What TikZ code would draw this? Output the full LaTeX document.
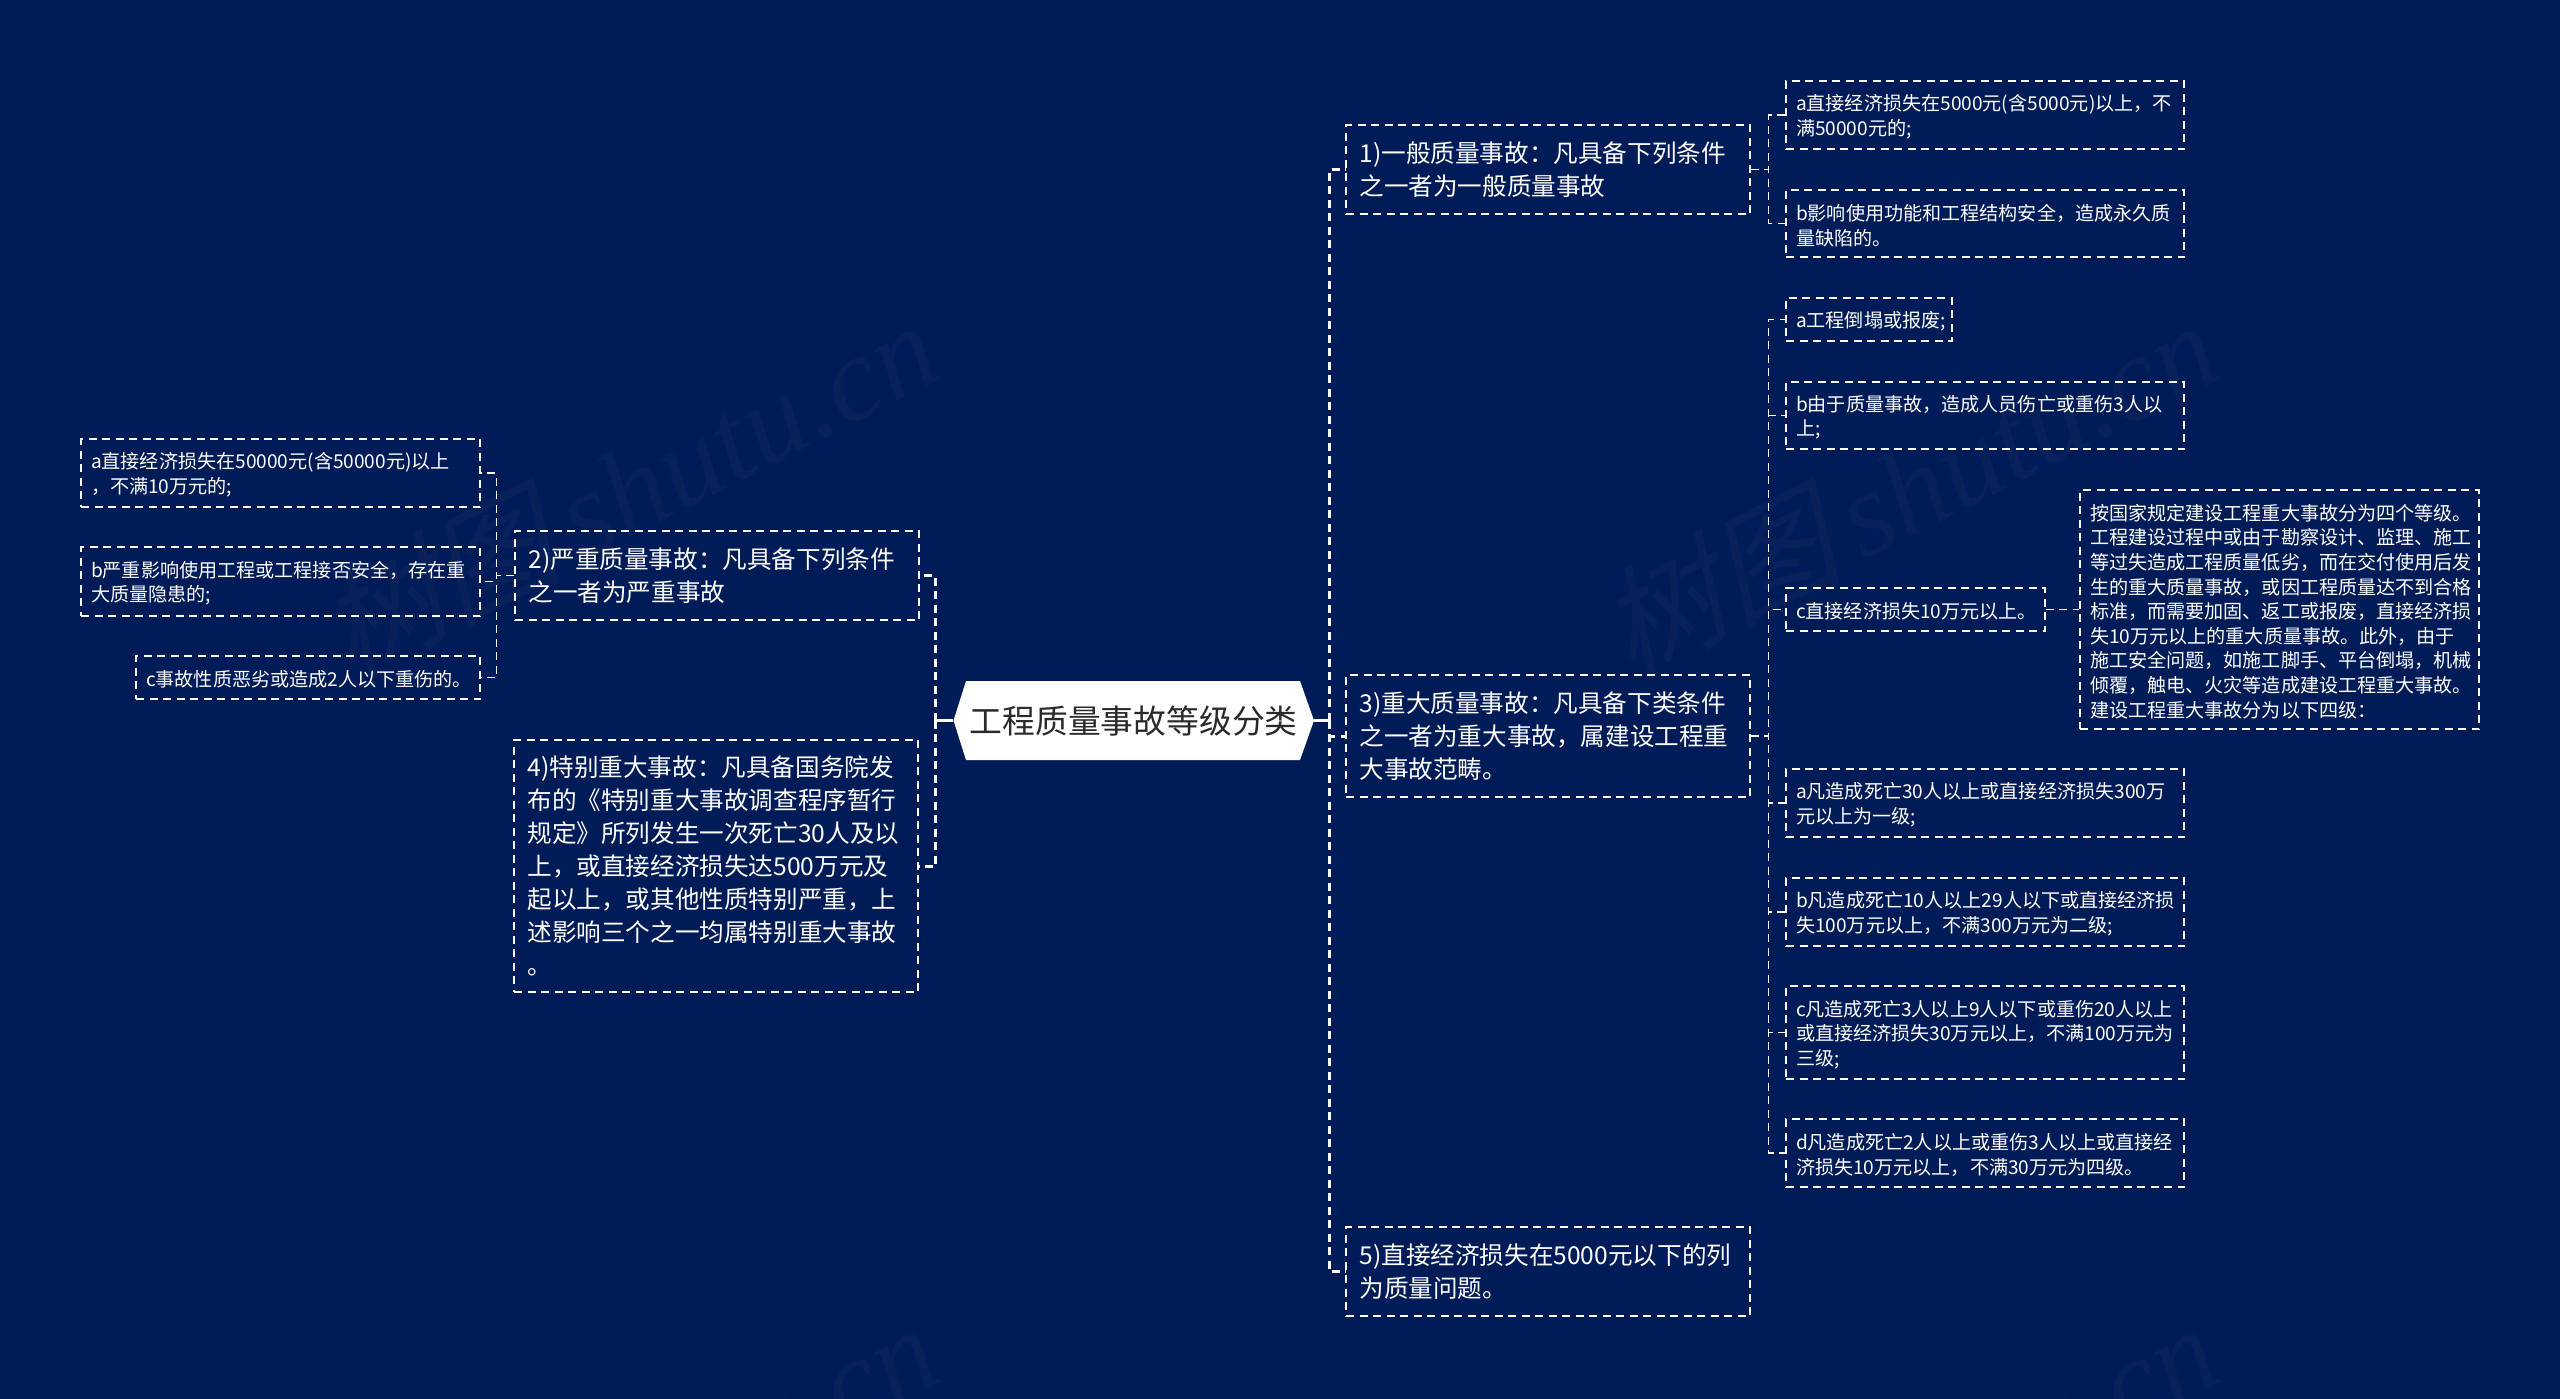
\documentclass[tikz,border=0pt]{standalone}
\usepackage{fontspec}
\setmainfont{Noto Sans CJK SC}
\newfontfamily\wmcjk[FakeSlant=0.25]{Noto Sans CJK SC}
\newfontfamily\wmlat{Liberation Serif}
\definecolor{bgblue}{HTML}{001C58}
\definecolor{wmark}{HTML}{09215A}
\definecolor{rootink}{HTML}{2A2A2A}
\tikzset{
  boxbase/.style={draw=white,line width=1.3pt,dash pattern=on 8pt off 5.5pt,text=white,inner ysep=0pt,rectangle,align=left,anchor=center},
  lvone/.style={boxbase,font=\fontsize{24.6}{33}\selectfont},
  lvtwo/.style={boxbase,font=\fontsize{19.1}{24.6}\selectfont,execute at begin node={\rule{0pt}{20pt}}},
  mainlink/.style={draw=white,line width=3pt,dash pattern=on 8pt off 5.5pt},
  sublink/.style={draw=white,line width=1.5pt,dash pattern=on 8pt off 5.5pt},
  stub/.style={draw=white,line width=3pt},
  rootbox/.style={rectangle,inner sep=0pt,text=rootink,font=\fontsize{32.8}{38}\selectfont},
  wm/.style={text=wmark,anchor=base west,rotate=27,inner sep=0pt,font=\fontsize{121}{130}\selectfont}
}
\newcommand{\bxgen}[8]{%
  \pgfmathsetmacro\bxcx{(#4+#6)/2}%
  \pgfmathsetmacro\bxcy{(#5+#7)/2}%
  \pgfmathsetmacro\bxw{#6-#4}%
  \pgfmathsetmacro\bxh{#7-#5}%
  \pgfmathsetmacro\bxt{#6-#4-2*#1}%
  \node[#3,inner xsep=#1pt,text width=\bxt pt,minimum width=\bxw pt,minimum height=\bxh pt] (#2) at (\bxcx,\bxcy) {#8};%
}
\newcommand{\bxa}{\bxgen{13.5}}
\newcommand{\bxb}{\bxgen{10}}
\newcommand{\wmtext}{{\wmcjk 树图}\,{\wmlat\itshape shutu.cn}}
\begin{document}
\begin{tikzpicture}[x=1pt,y=-1pt]
\useasboundingbox (0,0) rectangle (2560,1398);
\begin{scope}
\clip (-6,-6) rectangle (2566,1404);
\fill[bgblue] (-6,-6) rectangle (2566,1404);
\node[wm] (wa) at (350,680) {\wmtext};
\node[wm] (wb) at (1630,680) {\wmtext};
\node[wm] (wc) at (350,1683) {\wmtext};
\node[wm] (wd) at (1630,1683) {\wmtext};
\end{scope}

% root
\fill[white] (953.5,720.5) -- (966,681) -- (1300,681) -- (1314,720.5) -- (1300,760) -- (966,760) -- cycle;
\node[rootbox,minimum width=360.5pt,minimum height=79pt] (root) at (1133.75,720.5) {工程质量事故等级分类};

% level one, right
\bxa{n1}{lvone}{1346}{125}{1750}{214}{1)一般质量事故：凡具备下列条件\\之一者为一般质量事故}
\bxa{n3}{lvone}{1346}{675}{1750}{797}{3)重大质量事故：凡具备下类条件\\之一者为重大事故，属建设工程重\\大事故范畴。}
\bxa{n5}{lvone}{1346}{1227}{1750}{1316}{5)直接经济损失在5000元以下的列\\为质量问题。}
% level one, left
\bxa{n2}{lvone}{515}{531}{919}{620}{2)严重质量事故：凡具备下列条件\\之一者为严重事故}
\bxa{n4}{lvone}{514}{740}{918}{992}{4)特别重大事故：凡具备国务院发\\布的《特别重大事故调查程序暂行\\规定》所列发生一次死亡30人及以\\上，或直接经济损失达500万元及\\起以上，或其他性质特别严重，上\\述影响三个之一均属特别重大事故\\。}

% children of 1
\bxb{ka}{lvtwo}{1786}{81}{2184}{149}{a直接经济损失在5000元(含5000元)以上，不\\满50000元的;}
\bxb{kb}{lvtwo}{1786}{190}{2184}{257}{b影响使用功能和工程结构安全，造成永久质\\量缺陷的。}
% children of 3
\bxb{ma}{lvtwo}{1786}{298}{1952}{341}{a工程倒塌或报废;}
\bxb{mb}{lvtwo}{1786}{382}{2184}{449}{b由于质量事故，造成人员伤亡或重伤3人以\\上;}
\bxb{mc}{lvtwo}{1786}{588}{2045}{631}{c直接经济损失10万元以上。}
\bxb{note}{lvtwo}{2080}{490}{2479}{729}{按国家规定建设工程重大事故分为四个等级。\\工程建设过程中或由于勘察设计、监理、施工\\等过失造成工程质量低劣，而在交付使用后发\\生的重大质量事故，或因工程质量达不到合格\\标准，而需要加固、返工或报废，直接经济损\\失10万元以上的重大质量事故。此外，由于\\施工安全问题，如施工脚手、平台倒塌，机械\\倾覆，触电、火灾等造成建设工程重大事故。\\建设工程重大事故分为以下四级：}
\bxb{ga}{lvtwo}{1786}{769}{2184}{837}{a凡造成死亡30人以上或直接经济损失300万\\元以上为一级;}
\bxb{gb}{lvtwo}{1786}{878}{2184}{946}{b凡造成死亡10人以上29人以下或直接经济损\\失100万元以上，不满300万元为二级;}
\bxb{gc}{lvtwo}{1786}{986}{2184}{1079}{c凡造成死亡3人以上9人以下或重伤20人以上\\或直接经济损失30万元以上，不满100万元为\\三级;}
\bxb{gd}{lvtwo}{1786}{1119}{2184}{1187}{d凡造成死亡2人以上或重伤3人以上或直接经\\济损失10万元以上，不满30万元为四级。}
% children of 2
\bxb{la}{lvtwo}{81}{439}{480}{507}{a直接经济损失在50000元(含50000元)以上\\，不满10万元的;}
\bxb{lb}{lvtwo}{81}{547}{480}{616}{b严重影响使用工程或工程接否安全，存在重\\大质量隐患的;}
\bxb{lc}{lvtwo}{136}{656}{480}{699}{c事故性质恶劣或造成2人以下重伤的。}

% root stubs
\draw[stub] (root.west) -- ++(-17.5,0) coordinate (lspine);
\draw[stub] (root.east) -- ++(15,0) coordinate (rspine);
% main connectors
\draw[mainlink] (rspine) |- (n1.west);
\draw[mainlink] (rspine) |- (n3.west);
\draw[mainlink] (rspine) |- (n5.west);
\draw[mainlink] (lspine) |- (n2.east);
\draw[mainlink] (lspine) |- (n4.east);
% sub connectors
\foreach \kid in {ka,kb} \draw[sublink] (n1.east) -- ++(18,0) |- (\kid.west);
\foreach \kid in {ma,mb,mc,ga,gb,gc,gd} \draw[sublink] (n3.east) -- ++(18,0) |- (\kid.west);
\foreach \kid in {la,lb,lc} \draw[sublink] (n2.west) -- ++(-18,0) |- (\kid.east);
\draw[sublink] (mc.east) -- (note.west |- mc.east);
\end{tikzpicture}
\end{document}
